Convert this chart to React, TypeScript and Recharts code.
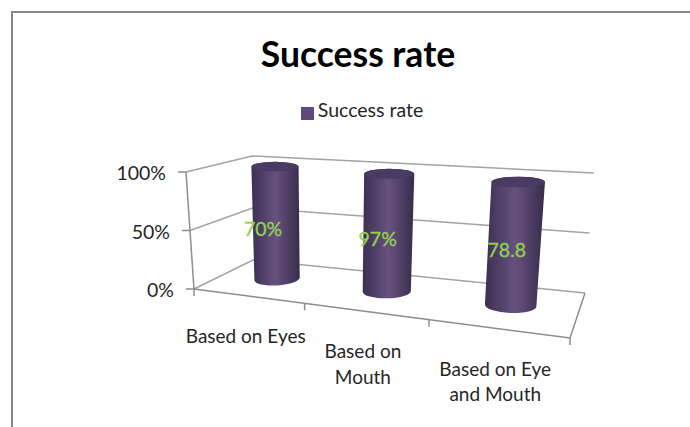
import React from "react";
import { BarChart, Bar, XAxis, YAxis, CartesianGrid, Legend, LabelList } from "recharts";

const categories = ["Based on Eyes", "Based on Mouth", "Based on Eye and Mouth"];
const categoryLines = [["Based on Eyes"], ["Based on", "Mouth"], ["Based on Eye", "and Mouth"]];
const successRate = [70, 97, 78.8];
const valueLabels = ["70%", "97%", "78.8"];
const yTicks = [0, 0.5, 1];
const chartTitle = "Success rate";

const rows = categories.map((name, i) => ({ name, rate: successRate[i], text: valueLabels[i] }));

const FONT = "Lato, 'Open Sans', sans-serif";
const GRID = "#a3a3a3";
const AXIS = "#8c8c8c";
const INK = "#262626";
const W = 690, H = 427;
const plot = { left: 100, top: 100, width: 500, height: 200 };

// corners of the drawn 3D box: [x, y] per side
const FL0 = [194, 289], FL1 = [186, 172], BL0 = [253, 260], BL1 = [252, 156];
const FR0 = [570, 338], FR1 = [582, 203], BR0 = [585, 293], BR1 = [594, 173];
const mix = (a: number[], b: number[], t: number) => [a[0] + (b[0] - a[0]) * t, a[1] + (b[1] - a[1]) * t];
const persp = (u: number) => u / (u + 1.2 * (1 - u));
const project = (u: number, v: number, w: number) => {
  const f = persp(u);
  const front = mix(mix(FL0, FR0, f), mix(FL1, FR1, f), v);
  const back = mix(mix(BL0, BR0, f), mix(BL1, BR1, f), v);
  return mix(front, back, w);
};
const toU = (x: number) => (x - plot.left) / plot.width;
const toV = (y: number) => 1 - (y - plot.top) / plot.height;
const DEPTH = 0.55;

const pathOf = (pts: number[][]) => pts.map((p, i) => `${i ? "L" : "M"}${p[0].toFixed(1)} ${p[1].toFixed(1)}`).join(" ");

function GridLine(props: any) {
  const v = toV(props.y1);
  const line = pathOf([project(0, v, 0), project(0, v, 1), project(1, v, 1)]);
  const a = project(0, v, 0);
  const isFloor = v < 0.01;
  return (
    <g key={props.key}>
      <path d={line} fill="none" stroke={GRID} strokeWidth={1.5} />
      <line x1={a[0] - 8} y1={a[1]} x2={a[0]} y2={a[1]} stroke={AXIS} strokeWidth={1.5} />
      {isFloor && (
        <g fill="none" stroke={AXIS} strokeWidth={1.5}>
          <path d={pathOf([project(0, 0, 0), project(0, 1, 0)])} />
          <path d={pathOf([project(0, 0, 0), project(1, 0, 0), project(1, 0, 1)])} />
          {[0, 1, 2, 3].map((i) => {
            const p = project(i / categories.length, 0, 0);
            return <line key={i} x1={p[0]} y1={p[1]} x2={p[0]} y2={p[1] + 7} />;
          })}
        </g>
      )}
    </g>
  );
}

function YTick({ y, payload }: any) {
  const p = project(0, toV(y), 0);
  return (
    <text x={p[0] - 20} y={p[1] + 1} dy="0.36em" textAnchor="end" fontFamily={FONT} fontSize={19.5} fill={INK}>
      {`${Math.round(payload.value * 100)}%`}
    </text>
  );
}

function XTick({ x, payload, index }: any) {
  const p = project(toU(x), 0, 0);
  const lines = categoryLines[index] || [payload.value];
  return (
    <text textAnchor="middle" fontFamily={FONT} fontSize={19} fill={INK}>
      {lines.map((s: string, i: number) => (
        <tspan key={s} x={p[0] - 2} y={p[1] + 47 + i * 25.5}>{s}</tspan>
      ))}
    </text>
  );
}

function Cylinder({ x, y, width, height, index }: any) {
  const uL = toU(x), uR = toU(x + width), uC = (uL + uR) / 2;
  const vT = toV(y), vB = toV(y + height);
  const widen = 1.12 - 0.18 * uC;
  const tl = project(uL, vT, DEPTH), tr = project(uR, vT, DEPTH);
  const bl0 = project(uL, vB, DEPTH), br0 = project(uR, vB, DEPTH);
  const cx = (bl0[0] + br0[0]) / 2, cy = (bl0[1] + br0[1]) / 2;
  const hw = ((br0[0] - bl0[0]) / 2) * widen;
  const tilt = (persp(uC) - 0.55) * 0.16;
  const bl = [cx - hw, cy - hw * tilt], br = [cx + hw, cy + hw * tilt];
  const tcx = (tl[0] + tr[0]) / 2, tcy = (tl[1] + tr[1]) / 2, thw = ((tr[0] - tl[0]) / 2) * widen;
  const tL = [tcx - thw, tcy], tR = [tcx + thw, tcy];
  const rot = (Math.atan(tilt) * 180) / Math.PI;
  const id = `cyl-${index}`;
  const body = `M${tL[0]} ${tL[1]} L${bl[0]} ${bl[1]} A${hw} ${hw * 0.29} ${rot} 0 0 ${br[0]} ${br[1]} L${tR[0]} ${tR[1]} A${thw} ${thw * 0.2} 0 0 0 ${tL[0]} ${tL[1]} Z`;
  return (
    <g>
      <defs>
        <linearGradient id={id} x1="0" y1="0" x2="1" y2="0">
          <stop offset="0" stopColor="#3c2f52" />
          <stop offset="0.5" stopColor="#67517f" />
          <stop offset="1" stopColor="#382c4c" />
        </linearGradient>
      </defs>
      <path d={body} fill={`url(#${id})`} />
      <ellipse cx={tcx} cy={tcy} rx={thw} ry={thw * 0.2} fill="#4a3b63" />
    </g>
  );
}

function ValueLabel({ x, y, width, height, value }: any) {
  const u = toU(x + width / 2);
  const p = project(u, toV(y + height / 2), DEPTH);
  return (
    <text x={p[0] - 14 + 8 * u} y={p[1] + 6} dy="0.36em" textAnchor="middle" fontFamily={FONT} fontSize={19.5} fill="#92d050" stroke="#92d050" strokeWidth={0.35}>
      {value}
    </text>
  );
}

export default function App() {
  return (
    <div style={{ position: "absolute", left: 0, top: 0, width: W, height: H, overflow: "hidden", background: "#fff" }}>
      <div style={{ position: "absolute", left: 11, top: 11, width: W, height: H, border: "2px solid #868686" }} />
      <div style={{ position: "absolute", left: 0, top: 0 }}>
        <BarChart
          width={W}
          height={H}
          data={rows}
          stackOffset="expand"
          barSize={plot.width * 0.134}
          margin={{ left: plot.left - 1, top: plot.top, right: W - plot.left - plot.width, bottom: H - plot.top - plot.height - 1 }}
        >
          <text x={358} y={54} dy="0.36em" textAnchor="middle" fontFamily={FONT} fontWeight={700} fontSize={35.5} fill="#000">
            {chartTitle}
          </text>
          <CartesianGrid vertical={false} horizontal={GridLine as any} />
          <XAxis dataKey="name" height={1} axisLine={false} tickLine={false} interval={0} tick={XTick as any} />
          <YAxis width={1} domain={[0, 1]} ticks={yTicks} axisLine={false} tickLine={false} tick={YTick as any} />
          <Legend
            layout="horizontal"
            verticalAlign="middle"
            iconType="square"
            iconSize={13}
            formatter={(v: string) => <span style={{ color: INK, fontFamily: FONT, fontSize: 19.5 }}>{v}</span>}
            wrapperStyle={{ top: 98, left: 292, width: 150, height: 24 }}
          />
          <Bar
            dataKey="rate"
            name="Success rate"
            stackId="a"
            fill="#604a7b"
            isAnimationActive={false}
            shape={(p: any) => <Cylinder {...p} />}
          >
            <LabelList dataKey="text" content={(p: any) => <ValueLabel {...p} />} />
          </Bar>
        </BarChart>
      </div>
    </div>
  );
}
